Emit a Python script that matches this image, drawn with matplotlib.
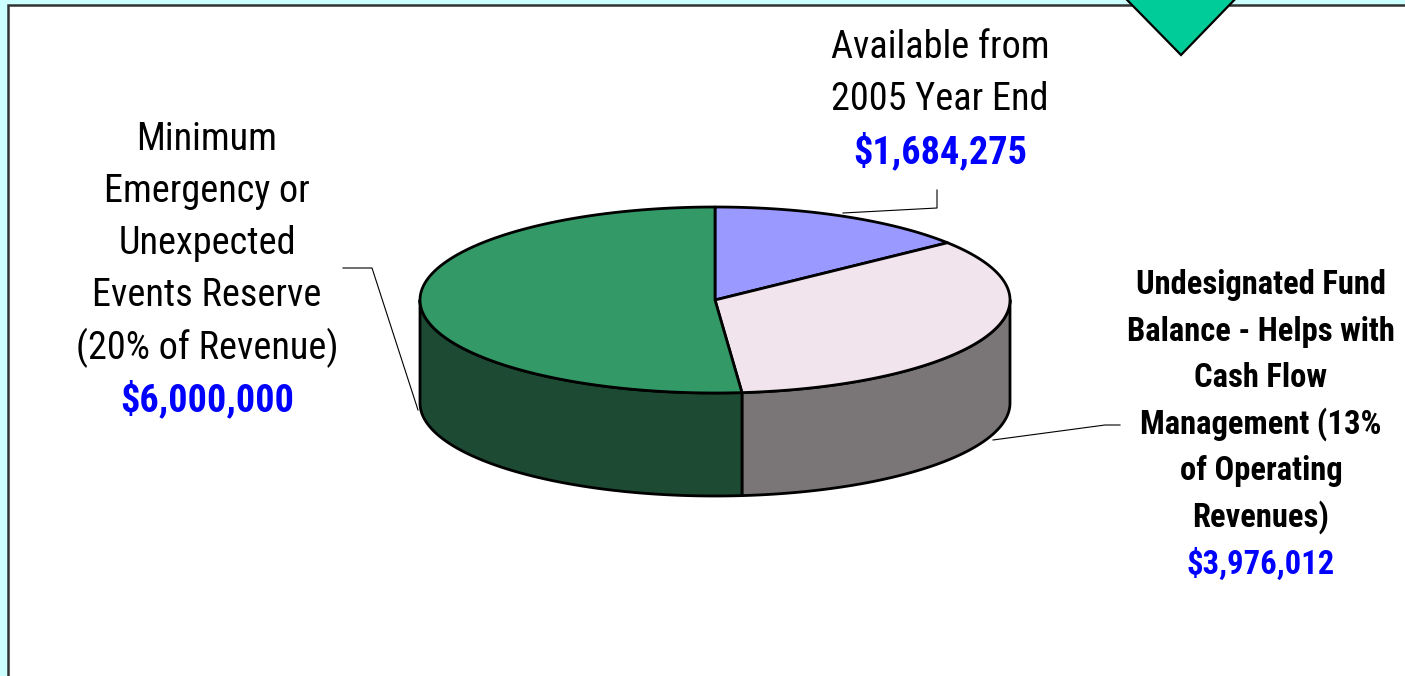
import numpy as np
import matplotlib
matplotlib.use("Agg")
import matplotlib.pyplot as plt
from matplotlib.patches import Polygon, Rectangle
from matplotlib import font_manager

# ---- data ----
categories = ["Available from 2005 Year End",
              "Undesignated Fund Balance",
              "Minimum Emergency or Unexpected Events Reserve"]
values = [1684275, 3976012, 6000000]
value_labels = ["$1,684,275", "$3,976,012", "$6,000,000"]
label_lines = [
    ["Available from", "2005 Year End"],
    ["Undesignated Fund", "Balance - Helps with", "Cash Flow",
     "Management (13%", "of Operating", "Revenues)"],
    ["Minimum", "Emergency or", "Unexpected", "Events Reserve",
     "(20% of Revenue)"],
]
top_colors = ["#9999FF", "#F1E4EC", "#339966"]
side_colors = ["#5C5C99", "#7A7577", "#1C4A33"]

names = {f.name for f in font_manager.fontManager.ttflist}
narrow = "Liberation Sans"
for cand in ["Liberation Sans Narrow", "Arial Narrow", "Roboto Condensed",
             "PT Sans Narrow", "Archivo Narrow", "Fira Sans Condensed"]:
    if cand in names:
        narrow = cand
        break

W, H = 1405, 676
fig = plt.figure(figsize=(W / 100, H / 100), dpi=100)
fig.patch.set_facecolor("#CCFFFF")
ax = fig.add_axes([0, 0, 1, 1])
ax.set_xlim(0, W)
ax.set_ylim(H, 0)
ax.axis("off")

# frame
ax.add_patch(Rectangle((8, 5), W + 20, H + 20, facecolor="white",
                       edgecolor="#333333", lw=1.8, zorder=0))

# ---- 3D pie ----
cx, cy, rx, ry, depth = 715, 300, 295, 93, 103
fr = np.array(values, float) / sum(values)
ends = 90 - np.cumsum(fr) * 360
starts = np.concatenate([[90], ends[:-1]])


def ell(t, off=0.0):
    t = np.radians(t)
    return np.column_stack([cx + rx * np.cos(t), cy - ry * np.sin(t) + off])

lw = 2.0
for a_start, a_end, col in zip(starts, ends, side_colors):
    lo, hi = a_end, a_start
    for shift in (0, -360, 360):
        l, h = lo + shift, hi + shift
        vl, vh = max(l, -180), min(h, 0)
        if vh > vl:
            t = np.linspace(vl, vh, 200)
            poly = np.vstack([ell(t), ell(t[::-1], depth)])
            ax.add_patch(Polygon(poly, closed=True, facecolor=col,
                                 edgecolor="black", lw=lw, joinstyle="round",
                                 zorder=2))

for a_start, a_end, col in zip(starts, ends, top_colors):
    t = np.linspace(a_end, a_start, 300)
    pts = np.vstack([[cx, cy], ell(t)])
    ax.add_patch(Polygon(pts, closed=True, facecolor=col, edgecolor="black",
                         lw=lw, joinstyle="round", zorder=3))

# ---- labels ----
blue = "#0000FF"
fs = 27.5
for i, s in enumerate(label_lines[0]):
    ax.text(940, 47 + i * 52, s, fontsize=fs, family=narrow,
            ha="center", va="center", zorder=5)
ax.text(940, 152, value_labels[0], fontsize=fs, family=narrow,
        weight="bold", color=blue, ha="center", va="center", zorder=5)

fs2 = 23.5
for i, s in enumerate(label_lines[1]):
    ax.text(1261, 285 + i * 46.5, s, fontsize=fs2, family=narrow,
            weight="bold", ha="center", va="center", zorder=5)
ax.text(1261, 564, value_labels[1], fontsize=fs2, family=narrow,
        weight="bold", color=blue, ha="center", va="center", zorder=5)

for i, s in enumerate(label_lines[2]):
    ax.text(207, 140 + i * 52, s, fontsize=fs, family=narrow,
            ha="center", va="center", zorder=5)
ax.text(207, 400, value_labels[2], fontsize=fs, family=narrow,
        weight="bold", color=blue, ha="center", va="center", zorder=5)

# leader lines
ax.plot([937, 937, 843], [190, 208, 213], color="black", lw=0.8, zorder=4)
ax.plot([1120, 1105, 993], [425, 425, 440], color="black", lw=0.8, zorder=1)
ax.plot([343, 372, 418], [268, 268, 410], color="black", lw=0.8, zorder=1)

# diamond decoration
ax.add_patch(Polygon([[1088, -40], [1181, 55], [1273, -40]], closed=True,
                     facecolor="#00CC99", edgecolor="black", lw=1.6, zorder=6))

fig.savefig("out.png", dpi=100, facecolor=fig.get_facecolor())
